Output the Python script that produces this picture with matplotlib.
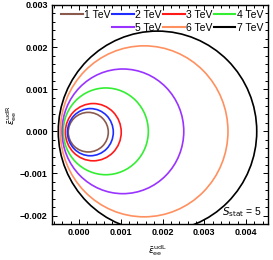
import numpy as np
import matplotlib
matplotlib.use("Agg")
import matplotlib.pyplot as plt
from matplotlib.patches import Ellipse
from matplotlib.lines import Line2D
from matplotlib.ticker import MultipleLocator

plt.rcParams["font.family"] = ["Liberation Sans", "DejaVu Sans"]
plt.rcParams["mathtext.fontset"] = "dejavusans"

# ── data (S_stat = 5 contours) ────────────────────────────────────────────────
labels   = ["1 TeV", "2 TeV", "3 TeV", "4 TeV", "5 TeV", "6 TeV", "7 TeV"]
center_x = [0.00022, 0.00027, 0.00034, 0.00064, 0.00105, 0.00156, 0.00188]
center_y = [-0.00002, -0.00002, -0.00002, 0.0, 0.0, 0.0, 0.0]
radius_x = [0.00048, 0.00055, 0.00067, 0.00102, 0.00146, 0.00201, 0.00238]
radius_y = [0.00047, 0.00056, 0.00068, 0.00103, 0.00148, 0.00203, 0.00238]
colors   = ["#8B5A4E", "#1F2EFF", "#FF1A1A", "#33EE33",
            "#9933FF", "#FF9060", "#000000"]

fig = plt.figure(figsize=(2.73, 2.60), dpi=100)
ax = fig.add_axes([0.1905, 0.1385, 0.7912, 0.8423])

for cx, cy, rx, ry, col in zip(center_x, center_y, radius_x, radius_y, colors):
    ax.add_patch(Ellipse((cx, cy), 2 * rx, 2 * ry, fill=False,
                         edgecolor=col, linewidth=1.2))

ax.set_xlim(-0.00065, 0.00453)
ax.set_ylim(-0.0022, 0.003)

ax.xaxis.set_major_locator(MultipleLocator(0.001))
ax.xaxis.set_minor_locator(MultipleLocator(0.0002))
ax.yaxis.set_major_locator(MultipleLocator(0.001))
ax.yaxis.set_minor_locator(MultipleLocator(0.0002))
ax.xaxis.set_major_formatter(lambda v, p: f"{v:.3f}".replace("-", "\u2212"))
ax.yaxis.set_major_formatter(lambda v, p: f"{v:.3f}".replace("-", "\u2212"))
ax.tick_params(which="both", direction="in", top=True, right=True,
               labelsize=6.5, width=0.7, pad=3)
ax.tick_params(which="major", length=3.5)
ax.tick_params(which="minor", length=2)
for lab in ax.get_xticklabels() + ax.get_yticklabels():
    lab.set_fontweight("bold")
for sp in ax.spines.values():
    sp.set_linewidth(1.0)

ax.set_xlabel(r"$\bar{\varepsilon}^{\,\rm udL}_{\rm ee}$", fontsize=6.5)
ax.set_ylabel(r"$\bar{\varepsilon}^{\,\rm udR}_{\rm ee}$", fontsize=6.5)
ax.xaxis.set_label_coords(0.49, -0.085)
ax.yaxis.set_label_coords(-0.155, 0.50)

ax.text(0.00342, -0.00192, r"$S_{\rm stat}$ = 5", fontsize=7.5,
        ha="left", va="center")

# legend: 4 columns, row 2 starts in column 2
hnd = [Line2D([], [], color=c, lw=1.5) for c in colors]
blank = Line2D([], [], color="none")
order_h = [hnd[0], blank, hnd[1], hnd[4], hnd[2], hnd[5], hnd[3], hnd[6]]
order_l = [labels[0], "", labels[1], labels[4], labels[2], labels[5],
           labels[3], labels[6]]
ax.legend(order_h, order_l, ncol=4, loc="upper right",
          bbox_to_anchor=(1.0, 1.0), frameon=False, fontsize=7.5,
          handlelength=2.1, handletextpad=0.15, columnspacing=0.1,
          borderpad=0.25, borderaxespad=0.2, labelspacing=0.3)

fig.savefig("out.png", dpi=100)
